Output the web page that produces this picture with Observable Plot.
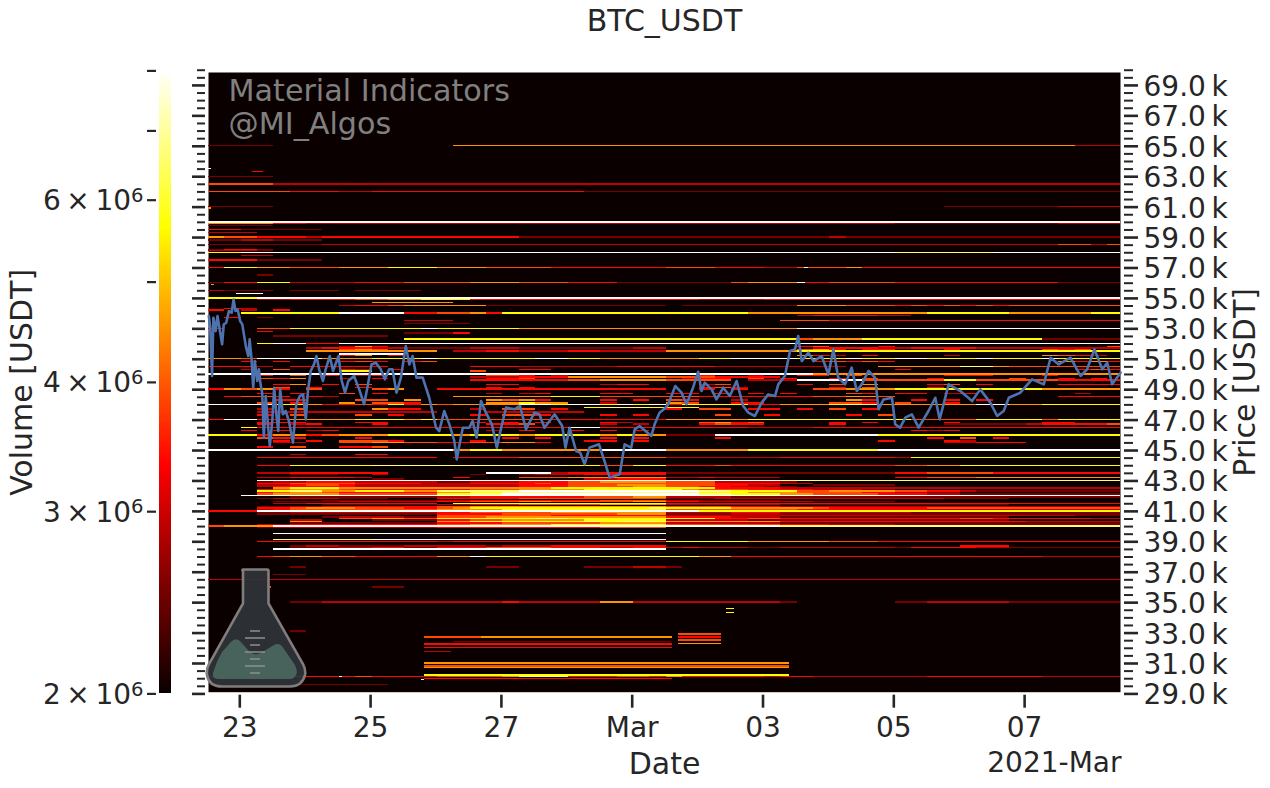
<!DOCTYPE html>
<html><head><meta charset="utf-8">
<script src="https://cdn.jsdelivr.net/npm/d3@7"></script>
<script src="https://cdn.jsdelivr.net/npm/@observablehq/plot@0.6"></script>
<style>
html,body{margin:0;padding:0;background:#fff;overflow:hidden}
#wrap{position:relative;width:1270px;height:788px;font-family:"DejaVu Sans"}
#wrap svg{position:absolute;left:0;top:0;background:transparent}
</style></head><body><div id="wrap"></div>
<script>
const chartTitle = "BTC_USDT";
const startTime = Date.UTC(2021,1,22,12,31);
const endTime = Date.UTC(2021,2,8,11,11);
const cellHours = 6;
const dateTicks = [[2021,1,23,"23"],[2021,1,25,"25"],[2021,1,27,"27"],[2021,2,1,"Mar"],[2021,2,3,"03"],[2021,2,5,"05"],[2021,2,7,"07"]];
const priceLabelTicks = [29,31,33,35,37,39,41,43,45,47,49,51,53,55,57,59,61,63,65,67,69];
const volumeTicks = [2e6,3e6,4e6,5e6,6e6,7e6,8e6];
const volumeLabels = {2e6:"2",3e6:"3",4e6:"4",6e6:"6"};
// volume meant by each level digit in the strings below ("." = no liquidity)
const levelVolumes = [0,2.5e6,2.9e6,3.35e6,3.85e6,4.5e6,5.6e6,6.6e6,8e6];

// price row, then one digit per 6 hours
const heatRows = [
[65000,"1111... ....... .555555 5555555 5555555 5555555 5555555 5555222"],
[63000,"1111..."],
[62500,"4444222 2222222 2222222 2222222 2222222 2222222 2222222 2222222"],
[62000,"4444433 3223333 3333333 3311111 1111111 1111111 1111111 1111111"],
[61000,"1111... ....... ....... ....... ....... ....... ...1111 1112222"],
[60000,"8888888 8888888 8888888 8888888 8888888 8888888 8888888 8888888"],
[59900,"5555332 2222222 2222222 2222222 2222222 2222222 1111111 1112222"],
[59750,"1111..."],
[59500,"3311111"],
[59300,"222...."],
[59000,"5443332 3333333 3333311 1111111 1111111 1112111 1111111 1111111"],
[58800,"1122111"],
[58500,"1111111 2222222 2222222 2222222 2222222 2222222 2222222 2224424"],
[58200,"1331..."],
[58100,"2221..."],
[58000,"6688888 8888888 8888888 8888888 8888888 8888888 7777778 8888888"],
[57800,"..22..."],
[57500,"3331111"],
[57000,"3765544 4555666 5554444 3333333 4443332 2444533 3333333 3333333"],
[56500,"...1..."],
[56000,"1336622 2233344 4455544 4333111 1111455 5334444 3333333 3331111"],
[55500,"2111.11 1.1111."],
[55000,"6668888 8888888 8888888 8888888 8888888 8888888 8888888 8888888"],
[54900,"...2233 3344556 6633333 3333333 3322223 3333333 3333333 3333333"],
[54700,"....... ...5555 5......"],
[54500,"....... .233455 5551111 1111111 .111111 1555444 3434343 4444444"],
[54300,".32...."],
[54200,"3.2.3.."],
[54000,"..66666 6888833 4453666 6666666 6666655 5555555 5566666 5555566"],
[53850,"....... ....... ....... ....... ....... .233332 2......"],
[53700,".3.1..."],
[53500,"....... .....22 2...... ....... ....... 4443333 3333333 3333333"],
[53300,"....... .....11 11....."],
[53000,"3..4466 6666668 6666655 5555555 5555555 5888888 8888888 8888888"],
[52800,"...3..."],
[52700,"....... .....11 13....."],
[52500,"....111 1111..."],
[52300,"....... .....66 6666666 6666666 6666666 6455566 6666666 6611111"],
[52000,"...6883 3888888 8888888 8888888 8888888 8888888 8888888 8888888"],
[51800,"....... .253... ....... ....... ....... .34...3 ....... ......4"],
[51700,"......2 3332211 1122211 1111122 ....... ..23332 2333322 2222222"],
[51600,"....... .454... ....... ....... ....... .453.33 ...3... ..434.."],
[51500,"......5 5555555 .223322 2332222 5555555 5666666 6666666 6666666"],
[51300,"....... .8888.."],
[51200,"....... .35.3.. ....... ....... ....... .532.3. ...2... ..5432."],
[51000,"5548888 5556668 6666668 8665555 5566888 8666866 8866686 6686666"],
[50800,"..3.3.. .343.34 ....... ....... ....... ..34343 ....... ...5353"],
[50500,"3332.33 3333... ..33322 2222333 3332222 2222..5 5555775 4444444"],
[50300,"..2.4.. .32.3.. .....33 ....... ....... ....... 3...... ....343"],
[50200,"....... .66.... ..4...."],
[50000,"8888888 8888888 8888888 8888888 8888888 8855555 5555555 5555555"],
[49900,"...3.4. 3.23... ...443. 2...... ..3..2. .33.4.. ...333. ..3...."],
[49800,"....... ....... ..22233 3555555 4443333"],
[49700,"...435. .2.3... ...334. ....... .233.4. 3..3.4. ..3.... 4..3.3."],
[49600,"....... ....... ..33333 3445555 4444.22 2888844 4446644 4443333"],
[49300,"....35. 3.4.... ...33.. ...233. ..24... .3.4.5. ..34.3. ...3333"],
[49100,"....4.3 ..3.... ...3.3. ....... ..342.. ...3.4. ..3.... ......."],
[49000,"3545304 ...45.. 3333333 3333333 ..3.3.. ..44555 6666666 6655555"],
[48700,"...3.3. .4.3... ...2.23 ...33.. 33.3.3. 3...43. 33.23.. ....2.."],
[48500,".3443.3 2...... .555555 6664444 4433333 3344554 ....... ...3333"],
[48300,"....33. ..44.5. ...5453 ...3.3. 43..2.. ....53. .3.3.3. ......."],
[48100,"...4.3. .5.443. ...5565 5..2... 54..33. ...443. 4..3... ......."],
[48000,"8888665 3343635 4555588 6886868 3666633 5556775 5555588 5566666"],
[47800,"....... ....... ....... ..67776 66....."],
[47700,"...2.4. ...533. ..2.44. 3...... 3.44.33 .3.4.3. ....... ......."],
[47500,"...2222 2222222 ...2222 22....."],
[47300,"...3.4. ..4.3.. ..3.443 ...3.3. ...4..3 ....3.4 ....... ......."],
[47000,"3883355 5566656 4444444 3333333 5555566 6666666 6444466 6646666"],
[46800,"...333. ..33... ..3.3.3 ...32.. ..4534. ...3.3. ...3... ..33..."],
[46700,"...3.23 ...3... ...334. ...2.2. ..3433. ...3... ...1111 1233334"],
[46500,"..63333 3333333 3333333 3883333 3333322 2233333 3333333 3333333"],
[46300,"..3.3.2 3...... ...2.3. .3.3.3. ....... ....... .323... ......."],
[46000,"6663553 4555666 6566656 6665655 1118888 8888886 6666666 6666666"],
[45800,"...433. ..3.... ....3.3 ...3.3. ...3... ....... ..3.4.3 ......."],
[45600,"....3.3 .4443.. ..3.... ..33.3. ....... ......3 ...32.. ......."],
[45500,"....22. .445544 3344553 ....... ....... ....... ...2233 3......"],
[45200,"...3.4. .334..."],
[45000,"8888888 8888888 8566555 5558888 5555566 6666668 8888888 8888888"],
[44700,".....2. ..33..."],
[44500,"...3333 3333333 .333344 4444444 2222222 3333333 2666666 6666666"],
[44000,"...3366 6667777 7777777 7664466 3334333 3333333 4455666 6666666"],
[43500,"...2233 3333... ...8888 2333333 1111111 1111111 3344443 3333333"],
[43400,".....11 1..2... ..1..12 2233333"],
[43200,"...2233 332.... .3...44 4555555 2232222 ....... 3344455 5555555"],
[43100,"....... ...11.. ....... ..22333"],
[43000,"...8888 8888888 8888888 8888888 8888888 7777777 7777777 7777777"],
[42900,"...1223 3322222 1122233 3445555 4442222 1......"],
[42800,"...3344 4433332 2233334 3444444 4443333 22....."],
[42700,"...2234 4322222 2222233 3444555 4443322 ..11111"],
[42600,"...2333 3322222 2222233 3444455 4433221 1......"],
[42500,"....566 6555555 5555555 6666666 6663333 2222222 2222222 2222222"],
[42400,"...3455 5433333 3344455 5566666 6544433 3322211"],
[42300,"...6677 5566655 7777788 8888888 8877666 6445555 4433211 1111111"],
[42200,"...3455 4333333 5566777 7777777 7766655 5444433 2211..."],
[42100,"...4555 5444444 6677888 8888888 8877666 5544443 3322111 1111111"],
[42000,"..88888 8888888 8888888 8888888 8888888 8888888 8888888 8888888"],
[41900,".....11 1111111 2233333 3344455 2222111 1111111 1111111 1111111"],
[41800,"...1222 2111... 3333344 4444444 1112222 2222222 2221111"],
[41700,"....... 1111111 2233333 3334444 2211111"],
[41600,"....111 1222222 3344455 4444455 3322222 2211111"],
[41500,"....223 3333333 .666666 6666666 3333333 3333333 3333333 3333333"],
[41400,"....... 1111111 2233344 4445555 2222222 1111111 1111111"],
[41300,"...1122 3333333 4455555 5555555 4444333 2222222 2222222 2222222"],
[41200,"...3345 5544433 4566666 6666667 6666555 5543333 3344444 4444444"],
[41100,"...2344 4444444 5555666 6666666 4444444 4333333 3322222 2222222"],
[41000,"3338888 8888888 8888888 8888888 8866666 6666666 6666666 6666666"],
[40900,"...1122 2222222 3344444 5555555 2222333 2222222 2111111 1111111"],
[40800,"...1111 1111111 3333444 4444555 1111222 1111111 1111111 1111111"],
[40700,"....... ....... 4444444 3333333 2222222 2222222 2222222 2222111"],
[40600,"....... 1222211 4445555 5555555 3333222 1111111 1111111"],
[40500,"....... .445544 6666667 7666666 6663344 3333333 3333443 3333322"],
[40400,".....22 ...1111 3344555 5566666 2222211 1111111 1111111"],
[40300,".....55 ....... 5566666 6676777 5555555 3333333 3333333 3222222"],
[40200,".....11 1111111 3333444 4445555 2222222 1111111 1111111 1111111"],
[40100,"...2233 3333333 4455555 6666666 4444444 3332222 1111111 1111111"],
[40000,"4555888 8888888 8888888 8888888 8888888 7777777 7777777 7777777"],
[39900,"...1222 2222222 3333333 3334444"],
[39500,"....888 8888888 8888888 8888888"],
[39100,"....777 7778888 8888888 8888888"],
[39000,"...3333 3333333 2333333 3333333 6666655 5554443 3333333 3333333"],
[38700,".....12 2111122 2221222 3333333 ....... ....... ....333"],
[38600,".....11 1223311 3334444 3332233 2322211 2222222 1333322 1111111"],
[38500,"....888 8888888 8888888 8888888"],
[38000,"...3455 4433333 5586666 6666666 6655333 3333333 3333333 3322222"],
[37300,".....1. ....... ...11.. ..11122 1......"],
[36800,"....11."],
[36500,"2222222 2222222 2222222 2222222 2222222 2222222 2222222 2222222"],
[36000,"....... ...11.."],
[35000,".....11 2222222 2222322 2225522 2222222 1...... 1122222 1111111"],
[33100,".....1."],
[30100,"3335553 3343333 4444577 7333443 5333332 3322222 2233333 3322222"],
[29600,".....11 1111..."]
];
// short or sharply cut runs: price, first hour, last hour, level
const heatRuns = [
[63500,0,1.2,8],[63300,16.2,20.2,3],[60900,0,1,5],[57000,218.7,220,8],[56000,216,219,8],
[55900,1.1,2.2,5],[55300,10.3,20.2,8],[36000,22.2,23.2,4],[34600,190,193,6],[34300,190,193,6],
[31270,20.3,21.3,3],[30100,48,49,8],[29900,78.3,79.4,7],
[32700,79.4,100,4],[32700,100,170.2,5],[32400,90,170,1],[32300,79.4,170.2,3],[32200,79.4,170.2,3],
[32000,79.4,170.2,3],[31750,79.4,89.3,2],[31000,79.4,213.2,5],[30800,79.4,213.2,4],[30700,79.4,213.2,5],
[30200,79.4,213.2,6],[30000,79.4,170.2,3],
[32900,172.4,188.2,4],[32700,172.4,188.2,3],[32500,172.4,188.2,4],[32300,172.4,188.2,5]
];
// BTC price line: hours after the start, then price
const priceHours = [0.1,0.6,1.3,1.8,2.6,3.3,4,5,5.6,6.5,7.5,8.5,9.2,9.9,10.7,11.6,12.4,13.1,13.8,14.6,15.1,15.8,16.4,17,17.9,18.5,19.1,19.7,20.3,21,21.7,22.5,23.4,24.1,24.9,25.6,26.3,27.3,28.3,29.5,31,32.2,33.5,34.7,35.7,36.5,37.5,38.7,39.6,40.6,42,43,44.5,45.7,47.7,48.9,50.1,51.3,53.4,55.3,57.1,58.3,59.8,61.4,63.2,64.7,66.3,67.5,69,70.6,72.4,73.7,74.9,76.3,78.6,81,83.5,84.7,86.5,88.4,90.2,91.1,93.3,95.7,96.9,98.4,100,101.8,104,105.8,107.4,109.2,112.3,114.3,116.5,119.6,121.4,123.3,127,129.8,131,132.5,134.9,136.4,138,139.8,143.3,145.3,147.2,150.9,152.7,155.1,156.4,158.2,162.5,163.7,165.5,167.8,168.7,171.3,173.6,175.4,177.8,179.7,180.9,182.1,184.6,186.4,188.9,191.3,193.8,196.2,198.1,200.5,203,205.4,207.9,209.1,211.5,213.4,215.2,216.4,217.7,220.1,222,225,227.5,229.3,231.1,233.6,236,237.9,239.7,242.2,244.6,245.9,247.7,250.8,252,253.8,255.7,258.1,260.6,264.2,266.7,268.3,271.6,275.9,280.2,283.2,286.9,289.4,291.8,293.7,297.9,302.2,306.5,309,312,316.3,320,322.4,325.1,328,329.8,331.6,334.7];
const priceValues = [53840,53180,49900,53730,52850,53840,53070,51980,53290,53400,54170,54060,54930,54170,54280,53510,53290,52520,51760,51210,52310,50990,49130,50880,49570,50340,49350,48800,45850,48580,46940,45300,46940,49130,47380,46280,49020,47380,47600,46940,45520,48040,48580,48690,47050,48910,50230,50660,51210,50340,49570,50340,51210,50230,51210,49570,48800,49570,49900,49020,48040,49130,50660,50770,50340,49680,50340,50340,48800,49790,51870,50660,51210,49790,49790,48470,46500,46280,47600,46720,45630,44420,46500,46500,46940,45850,48250,47490,46720,45190,46500,47820,47710,47930,46390,47490,47380,46500,47380,46610,45190,46500,44970,44860,44090,45190,45410,44310,43220,43440,45410,45190,46390,46610,45960,46720,47490,47820,48040,49240,48800,48040,49130,50180,48910,49460,49020,48360,49130,48580,49570,47930,47490,47270,48150,48690,48580,49350,49900,51540,51650,52530,50880,51430,50880,51210,50000,51650,49790,49350,50450,48910,49350,50230,49790,47710,48360,48470,46720,46500,47160,47380,46500,47600,48470,47050,49350,48910,48250,49020,48150,47270,47600,48470,48800,49680,49350,51100,50660,51100,49900,50340,51650,50340,50770,49350,50120];

const HOUR = 3600e3;
const ink = "#262626";
// matplotlib "hot" colour map
function hot(t){
  t = Math.max(0,Math.min(1,t));
  const r = t<0.365 ? 0.0416+0.9584*t/0.365 : 1;
  const g = t<0.365 ? 0 : t<0.746 ? (t-0.365)/0.381 : 1;
  const b = t<0.746 ? 0 : (t-0.746)/0.254;
  return `rgb(${Math.round(r*255)},${Math.round(g*255)},${Math.round(b*255)})`;
}
const colorScale = {type:"log",domain:[2e6,8e6],interpolate:hot};

const cells = [];
for (const [price,codes] of heatRows){
  const s = codes.replace(/ /g,"");
  for (let i=0;i<s.length;i++){
    const lvl = +s[i]||0;
    if (lvl) cells.push({t1:startTime+i*cellHours*HOUR,t2:Math.min(endTime,startTime+(i+1)*cellHours*HOUR),p:price,v:levelVolumes[lvl]});
  }
}
for (const [price,a,b,lvl] of heatRuns) cells.push({t1:startTime+a*HOUR,t2:startTime+b*HOUR,p:price,v:levelVolumes[lvl]});
const priceLine = priceHours.map((h,i)=>({t:startTime+h*HOUR,p:priceValues[i]}));
const xTicks = dateTicks.map(d=>new Date(Date.UTC(d[0],d[1],d[2])));
const xLabel = new Map(dateTicks.map(d=>[Date.UTC(d[0],d[1],d[2]),d[3]]));
const minorPriceTicks = d3.range(29000,70001,500).filter(v=>v%2000!==1000);
const majorPriceTicks = priceLabelTicks.map(k=>k*1000);

const main = Plot.plot({
  width:1270,height:788,marginLeft:208,marginRight:150,marginTop:72,marginBottom:96.3,
  style:{fontFamily:"DejaVu Sans",background:"transparent"},
  x:{type:"utc",domain:[new Date(startTime),new Date(endTime)],axis:null},
  y:{domain:[29113,69850],axis:null},
  color:colorScale,
  marks:[
    Plot.frame({fill:"#0b0000",stroke:"none"}),
    Plot.rect(cells,{x1:d=>new Date(d.t1),x2:d=>new Date(d.t2),y1:d=>d.p-46,y2:d=>d.p+46,fill:"v",shapeRendering:"crispEdges"}),
    Plot.line(priceLine,{x:d=>new Date(d.t),y:"p",stroke:"#4c72b0",strokeWidth:2.6,strokeLinejoin:"round"}),
    Plot.text(["Material Indicators\n@MI_Algos"],{frameAnchor:"top-left",dx:20,dy:5,fontSize:30.2,fill:"#808080",lineHeight:1.09,lineAnchor:"top"}),
    Plot.axisX(xTicks,{anchor:"bottom",tickSize:13,dy:3,tickPadding:9,strokeWidth:2.6,color:ink,fontSize:28,label:null,tickFormat:d=>xLabel.get(+d)}),
    Plot.axisY(majorPriceTicks,{anchor:"left",tickSize:13,dx:-3,strokeWidth:2.6,color:ink,tickFormat:()=>"",label:null}),
    Plot.axisY(minorPriceTicks,{anchor:"left",tickSize:8,dx:-3,strokeWidth:2,color:ink,tickFormat:()=>"",label:null}),
    Plot.axisY(majorPriceTicks,{anchor:"right",tickSize:14,dx:3,strokeWidth:2.6,color:ink,tickFormat:()=>"",label:null}),
    Plot.axisY(majorPriceTicks,{anchor:"right",tickSize:0,dx:3,dy:1.5,tickPadding:20,color:ink,fontSize:28,label:null,tickFormat:v=>(v/1000).toFixed(1)+"\u2009k"}),
    Plot.axisY(minorPriceTicks,{anchor:"right",tickSize:9,dx:3,strokeWidth:2,color:ink,tickFormat:()=>"",label:null}),
    Plot.text([chartTitle],{frameAnchor:"top",dy:-63,fontSize:30,fill:ink,lineAnchor:"top"}),
    Plot.text(["Date"],{frameAnchor:"bottom",dy:82,fontSize:30,fill:ink,lineAnchor:"bottom"}),
    Plot.text(["2021-Mar"],{frameAnchor:"bottom-right",dy:80,dx:1,fontSize:28,fill:ink,lineAnchor:"bottom"}),
    Plot.text(["Price [USDT]"],{frameAnchor:"right",dx:125,rotate:-90,fontSize:30,fill:ink,textAnchor:"middle"}),
    Plot.text(["Volume [USDT]"],{frameAnchor:"left",dx:-186,rotate:-90,fontSize:30,fill:ink,textAnchor:"middle"})
  ]
});
document.getElementById("wrap").append(main);

// colour bar: its own small plot with a log volume axis
const ramp = d3.range(0,240).map(i=>2e6*Math.pow(4,i/240));
const bar = Plot.plot({
  width:172,height:788,marginLeft:159,marginRight:1,marginTop:70.4,marginBottom:94.6,
  style:{fontFamily:"DejaVu Sans",background:"transparent"},
  x:{axis:null},
  y:{type:"log",domain:[2e6,8e6],axis:null},
  color:colorScale,
  marks:[
    Plot.rect(ramp.filter(v=>v<7.9e6),{y1:d=>d*1.0005,y2:d=>d*1.0065,fill:d=>d,shapeRendering:"crispEdges"}),
    Plot.axisY(volumeTicks,{anchor:"left",tickSize:9,dx:-3,strokeWidth:2.2,color:ink,tickFormat:()=>"",label:null}),
    Plot.axisY(volumeTicks,{anchor:"left",tickSize:0,dx:-3,dy:1,tickPadding:13,color:ink,fontSize:28,label:null,
      tickFormat:v=>volumeLabels[v]?volumeLabels[v]+"\u2009×\u200910":""})
  ]
});
document.getElementById("wrap").append(bar);
// the exponent of the colour-bar labels, as a raised tspan
d3.select(bar).selectAll("text").filter(function(){return this.textContent.includes("×")}).each(function(){
  const sel = d3.select(this).select("tspan");
  const target = sel.empty()?d3.select(this):sel;
  target.append("tspan").attr("dy","-0.42em").attr("font-size","0.7em").text("6");
});

// flask logo, a drawn watermark over the lower-left corner
const logo = `<svg xmlns="http://www.w3.org/2000/svg" width="1270" height="788" viewBox="0 0 1270 788" style="pointer-events:none">
<path d="M243 569.5 H267 Q268.500 569.500 268.500 571 V603.500 L303 664 Q306 670 305 675 Q302 686.500 290 686.500 H222 Q209 686.500 207 675 Q206 670 209 664 L243 603.500 V571 Q241.700 569.500 243 569.500 Z" fill="#2f3338" fill-opacity="0.93" stroke="#807d7c" stroke-width="2.6"/>
<path d="M213 673 Q216 662 222 652 L231 642 Q235 637 240 641 L248 650 Q256 658 264 651 L274 645 Q280 642 284 649 L295 665 Q298 672 296 675 Q294 679 290 679 H219 Q212 679 213 673 Z" fill="#4a6660" fill-opacity="0.93"/>
<g stroke="#8e8e8e" stroke-width="1.5"><path d="M250 631 H260 M245 638 H265 M250 645 H260 M245 652 H265 M250 659 H260 M245 666 H265 M250 673 H260" fill="none"/></g></svg>`;
document.getElementById("wrap").insertAdjacentHTML("beforeend",logo);
</script></body></html>
